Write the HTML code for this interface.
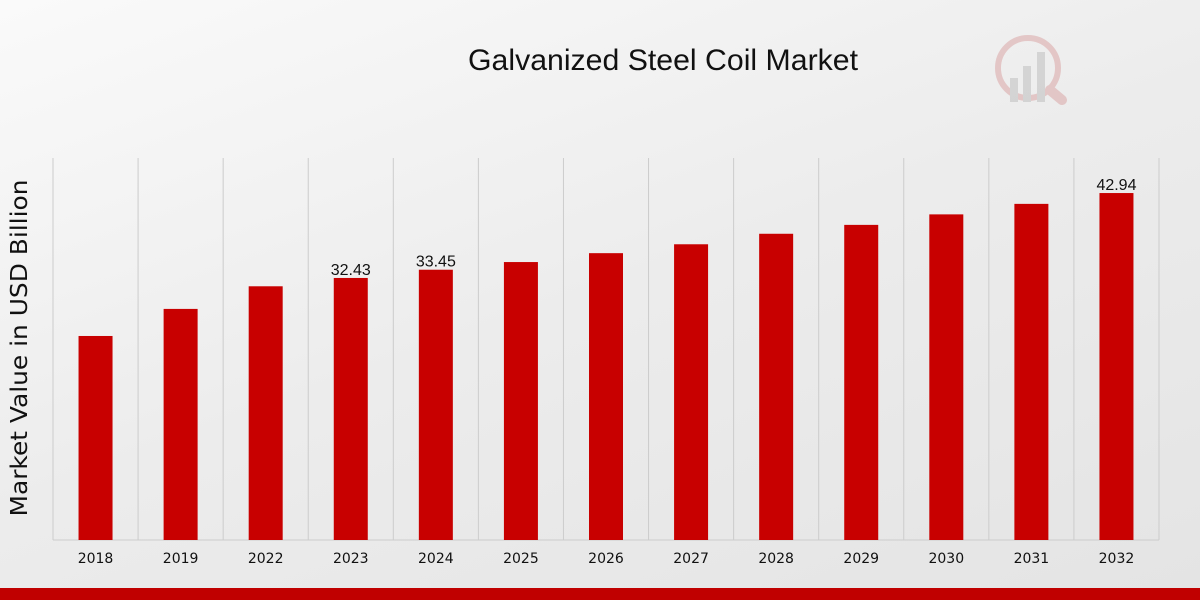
<!DOCTYPE html>
<html><head><meta charset="utf-8"><style>
body{margin:0;width:1200px;height:600px;overflow:hidden;font-family:"Liberation Sans",sans-serif;}
#bg{position:absolute;left:0;top:0;width:1200px;height:600px;background:linear-gradient(160deg,#fafafa 0%,#ececec 50%,#e4e4e4 100%);}
</style></head><body>
<div id="bg"></div>
<svg id="chart" width="1200" height="600" style="position:absolute;left:0;top:0">
<text x="663" y="70" font-size="30" text-anchor="middle" fill="#111" font-family="Liberation Sans Narrow, Liberation Sans, sans-serif" textLength="390" lengthAdjust="spacingAndGlyphs">Galvanized Steel Coil Market</text>
<text transform="translate(27,348) rotate(-90)" font-size="23" text-anchor="middle" fill="#111" font-family="DejaVu Sans, sans-serif" textLength="337" lengthAdjust="spacingAndGlyphs">Market Value in USD Billion</text>
<g opacity="0.5">
<circle cx="1028" cy="68" r="30" fill="none" stroke="#d9a0a0" stroke-width="6"/>
<line x1="1050" y1="90" x2="1062" y2="100" stroke="#d9a0a0" stroke-width="10" stroke-linecap="round"/>
<rect x="1010" y="78" width="8" height="24" fill="#bbb"/><rect x="1023" y="66" width="8" height="36" fill="#bbb"/><rect x="1037" y="52" width="8" height="50" fill="#bbb"/>
</g>
<g id="grid"></g><g id="bars"></g>
<rect x="0" y="588" width="1200" height="12" fill="#c00000"/>
</svg>
<script>
const categories=["2018","2019","2022","2023","2024","2025","2026","2027","2028","2029","2030","2031","2032"];
const values=[25.25,28.6,31.4,32.43,33.45,34.4,35.5,36.6,37.9,39.0,40.3,41.6,42.94];
const labels=[null,null,null,"32.43","33.45",null,null,null,null,null,null,null,"42.94"];
const NS="http://www.w3.org/2000/svg";
const x0=53,x1=1159,base=540,pxPerUnit=8.08,bw=(x1-x0)/categories.length;
const xs=i=>x0+bw*i, y=v=>base-v*pxPerUnit;
const grid=document.getElementById('grid'),bars=document.getElementById('bars');
function mk(t,a,p){const e=document.createElementNS(NS,t);for(const k in a)e.setAttribute(k,a[k]);p.appendChild(e);return e;}
for(let i=0;i<=categories.length;i++){const l=mk('line',{x1:xs(i),x2:xs(i),y1:158,y2:base,stroke:'#cccccc','stroke-width':1},grid);

}
const ax=mk('line',{x1:x0,x2:x1,y1:base,y2:base,stroke:'#cccccc'},grid);


categories.forEach((c,i)=>{const cx=xs(i)+bw/2;
const r=mk('rect',{x:cx-17,y:y(values[i]),width:34,height:base-y(values[i]),fill:'#c80000'},bars);


const t=mk('text',{x:cx,y:563,'font-size':14,'text-anchor':'middle',fill:'#111','font-family':'DejaVu Sans, sans-serif'},bars);t.textContent=c;


if(labels[i]){const v=mk('text',{x:cx,y:y(values[i])-3,'font-size':16,'text-anchor':'middle',fill:'#111'},bars);v.textContent=labels[i];

}
});
</script>
</body></html>
